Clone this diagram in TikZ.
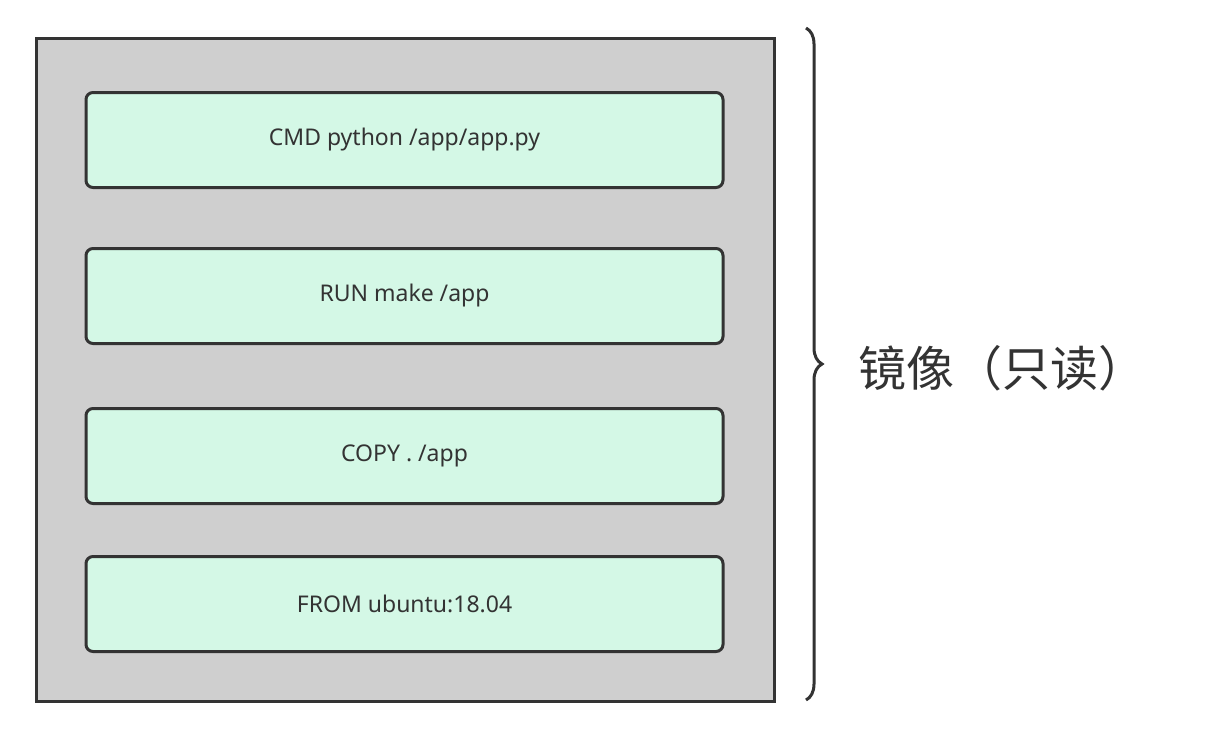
\documentclass[tikz,border=0pt]{standalone}
\usepackage{fontspec}
\setmainfont{Noto Sans}
\newfontfamily\cjk{Noto Sans CJK SC}
\usetikzlibrary{decorations.pathreplacing}
\definecolor{imgGray}{HTML}{CFCFCF}
\definecolor{layerGreen}{HTML}{D4F8E6}
\definecolor{edgeDark}{HTML}{333333}
\tikzset{
  layer/.style={draw=edgeDark, line width=3pt, fill=layerGreen, rounded corners=7pt,
    minimum width=637pt, minimum height=95pt, inner sep=0pt,
    font=\fontsize{23}{27}\selectfont, text=edgeDark},
}
\begin{document}
\begin{tikzpicture}[x=1pt,y=-1pt]
  \useasboundingbox (0,0) rectangle (1212,734);
  \draw[edgeDark, line width=3pt, fill=imgGray] (36,38) rectangle (774,701);
  % layers of the image
  \node[layer] (cmd)  at (404.5,140) {CMD python /app/app.py};
  \node[layer] (run)  at (404.5,296) {RUN make /app};
  \node[layer] (copy) at (404.5,456) {COPY . /app};
  \node[layer] (from) at (404.5,604) {FROM ubuntu:18.04};
  % brace and label
  \draw[edgeDark, line width=3pt, decorate, decoration={brace, amplitude=16pt}]
    (806,28) -- (806,700);
  \node[anchor=west, text=edgeDark, font=\cjk\fontsize{48}{56}\selectfont] (img) at (855,368) {镜像（只读）};
\end{tikzpicture}
\end{document}
